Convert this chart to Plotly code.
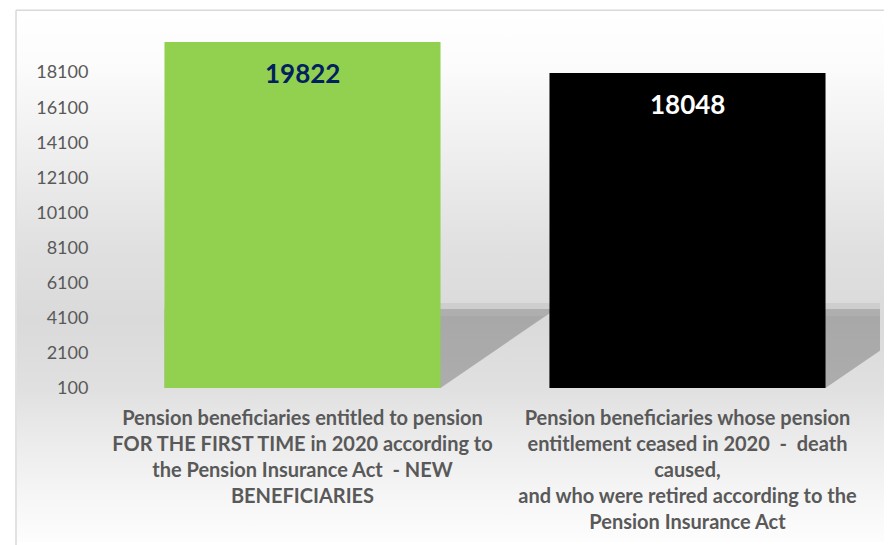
import base64
import plotly.graph_objects as go

# ---------------- data ----------------
categories = [
    "Pension beneficiaries entitled to pension<br>FOR THE FIRST TIME in 2020 according to<br>the Pension Insurance Act  - NEW<br>BENEFICIARIES",
    "Pension beneficiaries whose pension<br>entitlement ceased in 2020  -  death<br>caused,<br>and who were retired according to the<br>Pension Insurance Act",
]
values = [19822, 18048]
bar_colors = ["#92d050", "#000000"]
label_colors = ["#002060", "#ffffff"]
y_ticks = [100, 2100, 4100, 6100, 8100, 10100, 12100, 14100, 16100, 18100]

# ---------------- layout geometry ----------------
# the page places the figure 8px from the top-left corner
OFF = 8
W, H = 892 - OFF, 545 - OFF
ML, MR, MT, MB = 110 - OFF, 12, 37 - OFF, 155
PW, PH = W - ML - MR, H - MT - MB


def px_x(px):  # screen px -> paper
    return (px - OFF - ML) / PW


def px_y(py):
    return (H - MB - (py - OFF)) / PH


# background gradient (chart area frame from x=16,y=10)
stops = [(10, "#ffffff"), (60, "#fcfcfc"), (150, "#efefef"), (250, "#e0e0e0"),
         (320, "#dadada"), (390, "#e0e0e0"), (440, "#ebebeb"), (500, "#f6f6f6"), (545, "#fdfdfd")]
stop_xml = "".join(
    f'<stop offset="{(py - 10) / (545 - 10):.4f}" stop-color="{c}"/>' for py, c in stops
)
svg = (
    '<svg xmlns="http://www.w3.org/2000/svg" width="100" height="100" viewBox="0 0 100 100" preserveAspectRatio="none">'
    f'<defs><linearGradient id="g" x1="0" y1="0" x2="0" y2="1">{stop_xml}</linearGradient></defs>'
    '<rect x="0" y="0" width="100" height="100" fill="url(#g)"/></svg>'
)
svg_uri = "data:image/svg+xml;base64," + base64.b64encode(svg.encode()).decode()

x_pos = list(range(len(categories)))
bar_w = 0.717

fig = go.Figure()
fig.add_trace(go.Bar(
    x=x_pos, y=values, width=bar_w,
    marker=dict(color=bar_colors, line=dict(width=0)),
    hoverinfo="skip",
))

font_main = "Lato, 'Open Sans', sans-serif"

# data labels
for xp, v, c in zip(x_pos, values, label_colors):
    fig.add_annotation(
        x=xp, y=v, xref="x", yref="y", text=f"<b>{v}</b>", showarrow=False,
        yanchor="middle", yshift=-31,
        font=dict(family=font_main, size=26, color=c),
    )

shapes = []
# shadows behind bars (perspective reflection)
shadow_top = 4600
for xp in x_pos:
    xl, xr = xp - bar_w / 2, xp + bar_w / 2
    shapes.append(dict(
        type="path", xref="x", yref="y", layer="below",
        path=f"M {xl},100 L {xl},{shadow_top} L {xr + 0.30},{shadow_top} L {xr},100 Z",
        fillcolor="rgba(0,0,0,0.2)", line=dict(width=0),
    ))
    shapes.append(dict(
        type="path", xref="x", yref="y", layer="below",
        path=f"M {xl},100 L {xl},{shadow_top - 400} L {xr + 0.27},{shadow_top - 400} L {xr},100 Z",
        fillcolor="rgba(0,0,0,0.03)", line=dict(width=0),
    ))
    shapes.append(dict(
        type="path", xref="x", yref="y", layer="below",
        path=f"M {xl},{shadow_top} L {xl},{shadow_top + 350} L {xr + 0.33},{shadow_top + 350} L {xr + 0.30},{shadow_top} Z",
        fillcolor="rgba(0,0,0,0.06)", line=dict(width=0),
    ))

# frame lines
shapes.append(dict(type="line", xref="paper", yref="paper",
                   x0=px_x(16), x1=px_x(16), y0=px_y(560), y1=px_y(10),
                   line=dict(color="#d9d9d9", width=1.5)))
shapes.append(dict(type="line", xref="paper", yref="paper",
                   x0=px_x(16), x1=px_x(900), y0=px_y(10), y1=px_y(10),
                   line=dict(color="#d9d9d9", width=1.5)))

fig.update_layout(
    width=W, height=H,
    margin=dict(l=ML, r=MR, t=MT, b=MB, pad=0),
    paper_bgcolor="white",
    plot_bgcolor="rgba(0,0,0,0)",
    showlegend=False,
    shapes=shapes,
    images=[dict(
        source=svg_uri, xref="paper", yref="paper",
        x=px_x(17), y=px_y(11), sizex=(892 - 17) / PW, sizey=(545 - 11) / PH,
        xanchor="left", yanchor="top", sizing="stretch", layer="below",
    )],
    font=dict(family=font_main, color="#595959"),
    xaxis=dict(
        range=[-0.5, 1.5], tickvals=x_pos, ticktext=[f"<b>{c}</b>" for c in categories],
        showgrid=False, zeroline=False, showline=False,
        ticks="outside", ticklen=12, tickcolor="rgba(0,0,0,0)",
        tickfont=dict(family=font_main, size=20, color="#595959"),
        fixedrange=True,
    ),
    yaxis=dict(
        range=[100, 20100], tickvals=y_ticks, ticktext=[str(t) for t in y_ticks],
        showgrid=False, zeroline=False, showline=False,
        ticks="outside", ticklen=17, tickcolor="rgba(0,0,0,0)",
        tickfont=dict(family=font_main, size=18, color="#595959"),
        fixedrange=True,
    ),
)

fig.write_html("out.html", config={"displayModeBar": False})
